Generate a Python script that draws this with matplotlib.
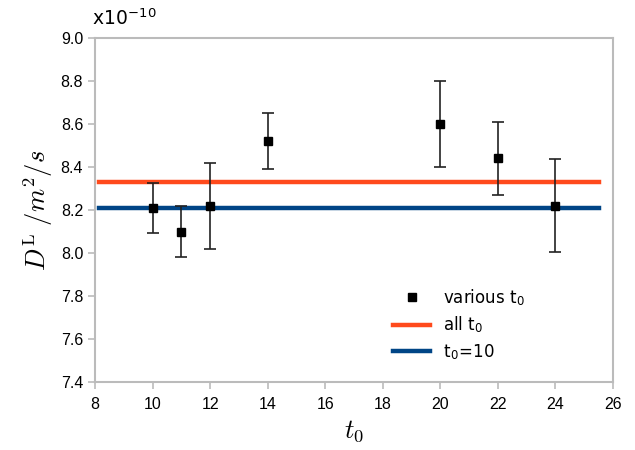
import matplotlib
matplotlib.use("Agg")
from matplotlib import pyplot as plt

plt.rcParams['font.family'] = ['Liberation Sans', 'DejaVu Sans']
plt.rcParams['mathtext.fontset'] = 'cm'

# diffusion coefficient for different t0 (units of 1e-10 m^2/s)
t0 = [10, 11, 12, 14, 20, 22, 24]
D = [8.21, 8.10, 8.22, 8.52, 8.60, 8.44, 8.22]
D_err = [0.115, 0.12, 0.20, 0.13, 0.20, 0.17, 0.215]

D_all = 8.33
D_t10 = 8.21
line_x = [8.15, 25.5]

gray = "#bbbbbb"

fig = plt.figure(figsize=(6.35, 4.5), dpi=100)
ax = fig.add_axes([0.1496, 0.151, 0.8158, 0.7646])

ax.errorbar(t0, D, yerr=D_err, fmt="none", ecolor="#222222",
            elinewidth=1.2, capsize=4, capthick=1.2, zorder=3)
ax.plot(t0, D, "s", color="black", ms=5.5, zorder=4,
        label=r"various t$_\mathregular{0}$")
ax.plot(line_x, [D_all, D_all], color="#ff4a1c", lw=3.2,
        label=r"all t$_\mathregular{0}$", zorder=2)
ax.plot(line_x, [D_t10, D_t10], color="#004586", lw=3.2,
        label=r"t$_\mathregular{0}$=10", zorder=2)

ax.set_xlim(8, 26)
ax.set_ylim(7.4, 9.0)
ax.set_xticks(range(8, 27, 2))
ax.set_yticks([7.4 + 0.2 * i for i in range(9)])
ax.set_yticklabels(["%.1f" % (7.4 + 0.2 * i) for i in range(9)])

for s in ax.spines.values():
    s.set_color(gray)
    s.set_linewidth(1.5)
ax.tick_params(axis="both", colors=gray, labelcolor="black", labelsize=11.5,
               width=1.2, length=5)
ax.tick_params(axis="x", pad=6)

ax.set_xlabel(r"$t_0$", fontsize=19)
ax.set_ylabel(r"$D^{\rm L}\ /m^2/s$", fontsize=19)
ax.text(-0.005, 1.025, r"x10$^\mathregular{-10}$", transform=ax.transAxes,
        fontsize=13.5, ha="left", va="bottom", family="DejaVu Sans")

ax.legend(loc="lower right", bbox_to_anchor=(0.86, 0.015), frameon=False,
          prop={"family": "DejaVu Sans", "size": 12},
          handlelength=2.2, labelspacing=0.4)

fig.savefig("out.png", dpi=100)
